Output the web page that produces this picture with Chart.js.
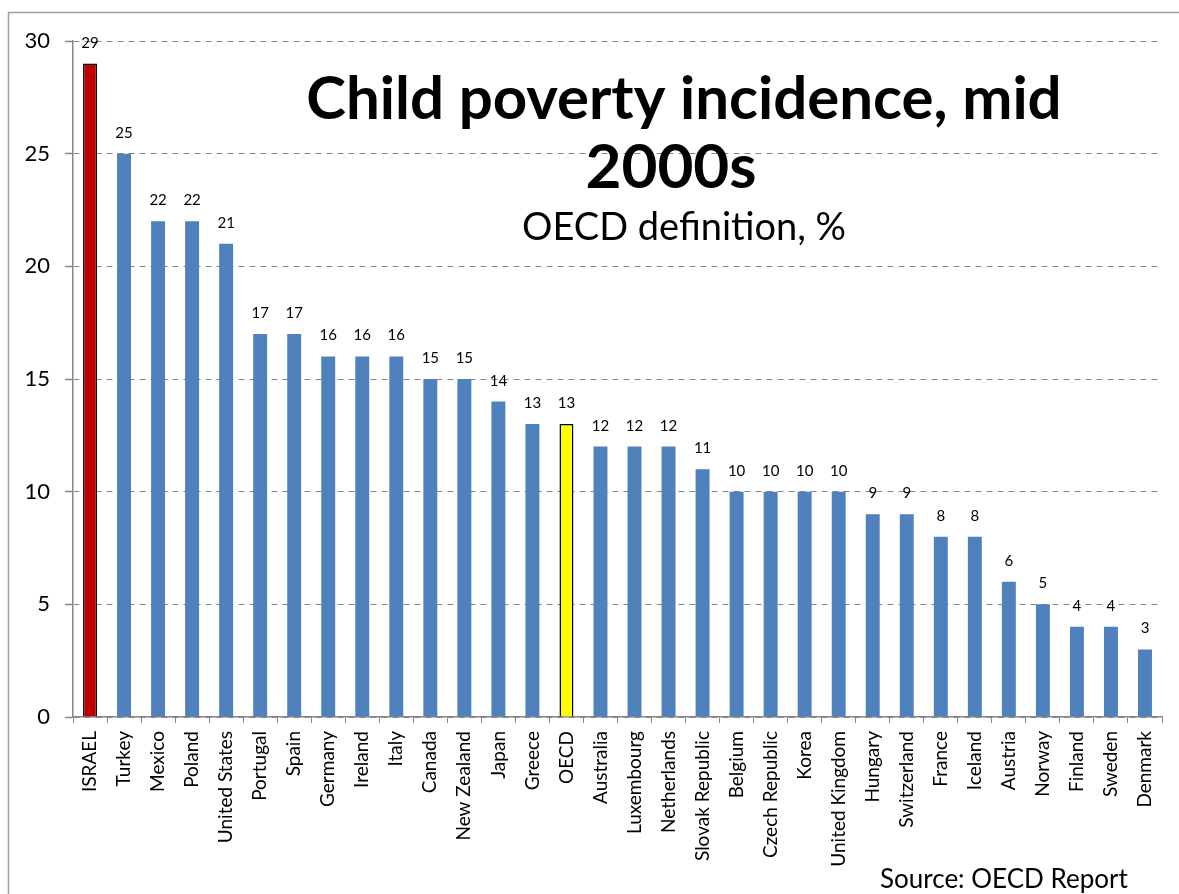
<!DOCTYPE html>
<html><head><meta charset="utf-8">
<script src="https://cdn.jsdelivr.net/npm/chart.js@4/dist/chart.umd.min.js"></script>
<style>html,body{margin:0;padding:0;background:#fff}#wrap{width:1179px;height:894px;position:relative}</style>
</head><body><div id="wrap"><canvas id="c" width="1179" height="894"></canvas></div>
<script>
const categories = ["ISRAEL","Turkey","Mexico","Poland","United States","Portugal","Spain","Germany","Ireland","Italy","Canada","New Zealand","Japan","Greece","OECD","Australia","Luxembourg","Netherlands","Slovak Republic","Belgium","Czech Republic","Korea","United Kingdom","Hungary","Switzerland","France","Iceland","Austria","Norway","Finland","Sweden","Denmark"];
const values = [29,25,22,22,21,17,17,16,16,16,15,15,14,13,13,12,12,12,11,10,10,10,10,9,9,8,8,6,5,4,4,3];
const yTicks = [0,5,10,15,20,25,30];
const titleLines = ["Child poverty incidence, mid","2000s"];
const subtitle = "OECD definition, %";
const sourceNote = "Source: OECD Report";
const highlightColors = {"ISRAEL":"#C00000","OECD":"#FFFF00"};

const FONT = "Lato, 'Open Sans', sans-serif";
const baseColor = "#4F81BD";
const bg = categories.map(c => highlightColors[c] || baseColor);
const bw = categories.map(c => highlightColors[c] ? 1.5 : 0);

const frame = {
  id: 'frame',
  beforeDraw(chart) {
    const ctx = chart.ctx;
    ctx.save();
    ctx.fillStyle = '#fff';
    ctx.fillRect(0,0,chart.width,chart.height);
    ctx.strokeStyle = '#a0a0a0';
    ctx.lineWidth = 1.5;
    ctx.strokeRect(8.5, 12.5, 1400, 1200);
    ctx.restore();
  }
};
const valueLabels = {
  id: 'valueLabels',
  afterDatasetsDraw(chart) {
    const ctx = chart.ctx;
    const meta = chart.getDatasetMeta(0);
    ctx.save();
    ctx.font = "15px " + FONT;
    ctx.fillStyle = '#000';
    ctx.textAlign = 'center';
    ctx.textBaseline = 'alphabetic';
    meta.data.forEach((el, i) => {
      ctx.fillText(String(values[i]), el.x, el.y - 16);
    });
    ctx.restore();
  }
};
const titles = {
  id: 'titles',
  afterDraw(chart) {
    const ctx = chart.ctx;
    ctx.save();
    ctx.fillStyle = '#000';
    ctx.textAlign = 'center';
    ctx.textBaseline = 'alphabetic';
    ctx.font = "bold 60px " + FONT;
    ctx.fillText(titleLines[0], 684, 119);
    ctx.font = "bold 62px " + FONT;
    ctx.fillText(titleLines[1], 671, 188);
    ctx.font = "38px " + FONT;
    ctx.fillText(subtitle, 684, 240);
    ctx.font = "26px " + FONT;
    ctx.textAlign = 'left';
    ctx.fillText(sourceNote, 880, 888);
    ctx.restore();
  }
};

new Chart(document.getElementById('c'), {
  type: 'bar',
  data: {
    labels: categories,
    datasets: [{
      data: values,
      backgroundColor: bg,
      borderColor: '#000',
      borderWidth: bw,
      barPercentage: 0.41,
      categoryPercentage: 1.0
    }]
  },
  options: {
    responsive: false,
    animation: false,
    devicePixelRatio: 1,
    layout: { padding: { left: 8, top: 41, right: 17, bottom: 0 } },
    plugins: { legend: { display: false }, tooltip: { enabled: false }, title: { display: false } },
    scales: {
      x: {
        afterFit(s) { s.height = 177; },
        grid: { display: true, drawOnChartArea: false, drawTicks: true, tickLength: 6, color: '#868686', tickColor: '#868686', offset: true },
        border: { display: true, color: '#868686', width: 1.5 },
        ticks: { autoSkip: false, maxRotation: 90, minRotation: 90, padding: 8, color: '#000', font: { family: FONT, size: 19 } }
      },
      y: {
        min: 0, max: 30,
        afterFit(s) { s.width = 65; },
        afterBuildTicks(s) { s.ticks = yTicks.map(v => ({ value: v })); },
        grid: { color: '#868686', lineWidth: 1, tickLength: 8, tickColor: '#868686', tickWidth: 1.5 },
        border: { display: true, color: '#868686', width: 1.5, dash: [6,5] },
        ticks: { padding: 15, color: '#000', font: { family: FONT, size: 22 } }
      }
    }
  },
  plugins: [frame, valueLabels, titles]
});
</script></body></html>
